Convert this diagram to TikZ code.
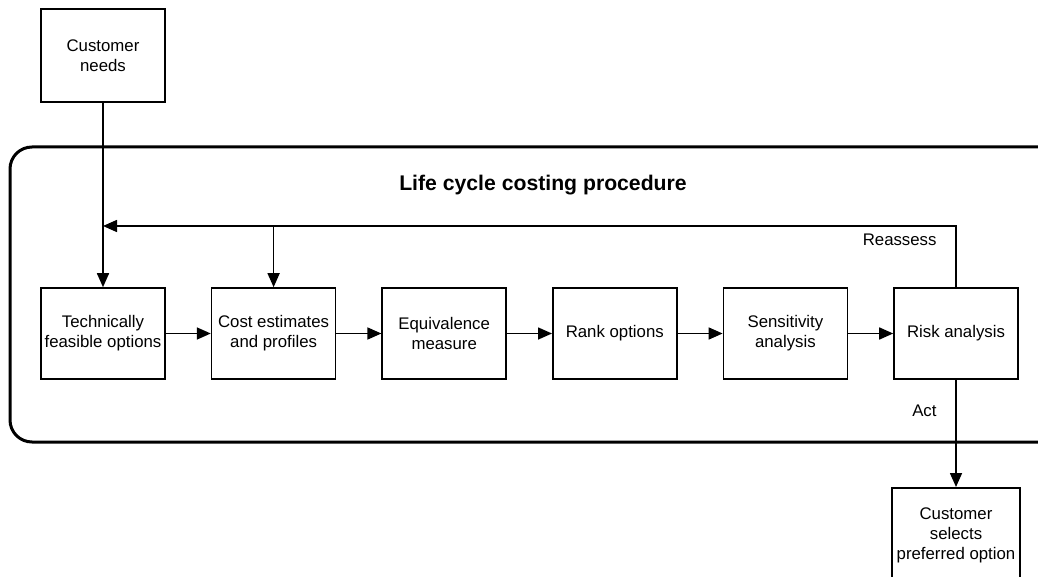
\documentclass[tikz,border=0pt]{standalone}
\usepackage{fontspec}
\setmainfont{Liberation Sans}
\usetikzlibrary{arrows.meta,positioning}

\tikzset{
  stage/.style={draw,line width=0.8pt,minimum width=62pt,minimum height=45.5pt,align=center,inner sep=1pt},
  flow/.style={->,line width=0.8pt},
}

\begin{document}
\begin{tikzpicture}[x=0.5pt,y=-0.5pt,>={Triangle[length=7pt,width=6pt]},font=\fontsize{8.4}{10}\selectfont]
\clip (0,0) rectangle (1038,577);

\node[stage,minimum height=46.5pt](need) at (103,55.5){Customer\\needs};

% the procedure frame
\draw[line width=1.5pt,rounded corners=11pt] (10,147) rectangle (1062,442);
\node[font=\fontsize{10.6}{12}\selectfont\bfseries](title) at (543,185){Life cycle costing procedure};

\foreach \t [count=\n] in {{Technically\\feasible options},{Cost estimates\\and profiles},{Equivalence\\measure},{Rank options},{Sensitivity\\analysis},{Risk analysis}}
  \node[stage](S\n) at ({103+170.6*(\n-1)},333.5){\t};

\node[stage,anchor=north,minimum width=64pt,minimum height=48pt](pick) at (956,487){Customer\\selects\\preferred option};

\coordinate (back) at (103,226);
\coordinate (split) at (S2.north |- back);

\draw[flow] (need) -- (S1);
\draw[flow] (S6.north) |- node[pos=0.385,left=6pt]{Reassess} (back);
\draw[flow] (split) -- (S2.north);
\foreach \a/\b in {1/2,2/3,3/4,4/5,5/6}
  \draw[flow] (S\a) -- (S\b);
\draw[flow] (S6) -- node[pos=0.29,left=6pt]{Act} (pick);
\end{tikzpicture}
\end{document}
